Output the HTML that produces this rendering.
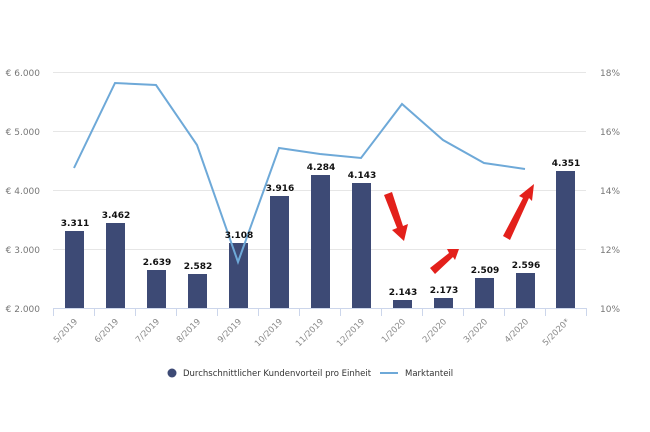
<!DOCTYPE html><html><head><style>body{margin:0;background:#fff}svg{display:block}</style></head><body>
<svg width="650" height="432" xmlns="http://www.w3.org/2000/svg" font-family="DejaVu Sans, Liberation Sans, sans-serif">
<g stroke="#e6e6e6" stroke-width="1">
<line x1="53" x2="586" y1="72.5" y2="72.5"/><line x1="53" x2="586" y1="131.5" y2="131.5"/><line x1="53" x2="586" y1="190.5" y2="190.5"/><line x1="53" x2="586" y1="249.5" y2="249.5"/></g>
<line x1="53" x2="586" y1="308.5" y2="308.5" stroke="#ccd6eb"/>
<g stroke="#ccd6eb"><line x1="53.5" x2="53.5" y1="308" y2="316"/><line x1="94.5" x2="94.5" y1="308" y2="316"/><line x1="135.5" x2="135.5" y1="308" y2="316"/><line x1="176.5" x2="176.5" y1="308" y2="316"/><line x1="217.5" x2="217.5" y1="308" y2="316"/><line x1="258.5" x2="258.5" y1="308" y2="316"/><line x1="299.5" x2="299.5" y1="308" y2="316"/><line x1="340.5" x2="340.5" y1="308" y2="316"/><line x1="381.5" x2="381.5" y1="308" y2="316"/><line x1="422.5" x2="422.5" y1="308" y2="316"/><line x1="463.5" x2="463.5" y1="308" y2="316"/><line x1="504.5" x2="504.5" y1="308" y2="316"/><line x1="545.5" x2="545.5" y1="308" y2="316"/><line x1="586.5" x2="586.5" y1="308" y2="316"/></g>
<g font-size="9" fill="#777" text-anchor="end">
<text x="40" y="76">€ 6.000</text><text x="40" y="135">€ 5.000</text><text x="40" y="194">€ 4.000</text><text x="40" y="253">€ 3.000</text><text x="40" y="312">€ 2.000</text></g>
<g font-size="9" fill="#777"><text x="600" y="76">18%</text><text x="600" y="135">16%</text><text x="600" y="194">14%</text><text x="600" y="253">12%</text><text x="600" y="312">10%</text></g>
<g fill="#3d4a75">
<rect x="65" y="231" width="19" height="77"/><rect x="106" y="223" width="19" height="85"/><rect x="147" y="270" width="19" height="38"/><rect x="188" y="274" width="19" height="34"/><rect x="229" y="243" width="19" height="65"/><rect x="270" y="196" width="19" height="112"/><rect x="311" y="175" width="19" height="133"/><rect x="352" y="183" width="19" height="125"/><rect x="393" y="300" width="19" height="8"/><rect x="434" y="298" width="19" height="10"/><rect x="475" y="278" width="19" height="30"/><rect x="516" y="273" width="19" height="35"/><rect x="556" y="171" width="19" height="137"/></g>
<polyline fill="none" stroke="#6ea9d8" stroke-width="2" points="74,168 115,83 156,85 197,145 238,262 279,148 320,154 361,158 402,104 443,140 484,163 525,169"/>
<g font-size="9" font-weight="bold" fill="#111" text-anchor="middle">
<text x="75" y="226">3.311</text><text x="116" y="218">3.462</text><text x="157" y="265">2.639</text><text x="198" y="269">2.582</text><text x="239" y="238">3.108</text><text x="280" y="191">3.916</text><text x="321" y="170">4.284</text><text x="362" y="178">4.143</text><text x="403" y="295">2.143</text><text x="444" y="293">2.173</text><text x="485" y="273">2.509</text><text x="526" y="268">2.596</text><text x="566" y="166">4.351</text></g>
<g font-size="8.5" fill="#888" text-anchor="end">
<text transform="translate(78,322) rotate(-45)">5/2019</text><text transform="translate(119,322) rotate(-45)">6/2019</text><text transform="translate(160,322) rotate(-45)">7/2019</text><text transform="translate(201,322) rotate(-45)">8/2019</text><text transform="translate(242,322) rotate(-45)">9/2019</text><text transform="translate(283,322) rotate(-45)">10/2019</text><text transform="translate(324,322) rotate(-45)">11/2019</text><text transform="translate(365,322) rotate(-45)">12/2019</text><text transform="translate(406,322) rotate(-45)">1/2020</text><text transform="translate(447,322) rotate(-45)">2/2020</text><text transform="translate(488,322) rotate(-45)">3/2020</text><text transform="translate(529,322) rotate(-45)">4/2020</text><text transform="translate(570,322) rotate(-45)">5/2020*</text></g>
<g fill="#e3201b">
<polygon points="384,195 392,192 403,226 408,224 404,241 392,230 397,228"/>
<polygon points="430,268 449,253 447,249 459,249 455,260 453,257 435,274"/>
<polygon points="503,236 523,198 519,196 534,184 532,201 529,198 510,240"/></g>
<circle cx="172" cy="373" r="4.5" fill="#3d4a75"/>
<text x="183" y="376" font-size="8.5" fill="#333">Durchschnittlicher Kundenvorteil pro Einheit</text>
<line x1="380" x2="398" y1="373" y2="373" stroke="#6ea9d8" stroke-width="2"/>
<text x="405" y="376" font-size="8.5" fill="#333">Marktanteil</text>
</svg></body></html>
